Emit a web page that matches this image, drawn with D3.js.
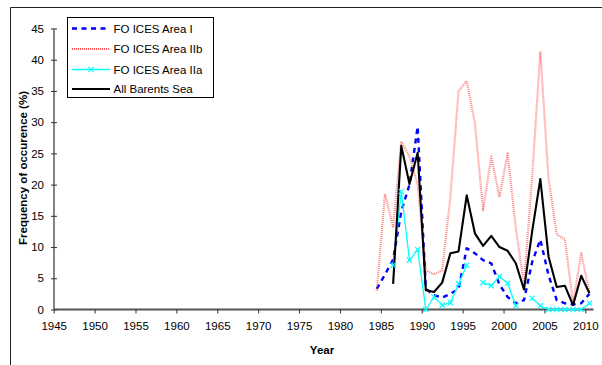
<!DOCTYPE html>
<html>
<head>
<meta charset="utf-8">
<script src="https://cdn.jsdelivr.net/npm/d3@7"></script>
<style>
  html, body { margin: 0; padding: 0; background: #fff; }
  svg { display: block; }
  text { font-family: "Liberation Sans", Arial, sans-serif; fill: #000; }
</style>
</head>
<body>
<svg id="chart" width="602" height="365"></svg>
<script>
// Survey years
const years = [1984, 1985, 1986, 1987, 1988, 1989, 1990, 1991, 1992, 1993,
               1994, 1995, 1996, 1997, 1998, 1999, 2000, 2001, 2002, 2003,
               2004, 2005, 2006, 2007, 2008, 2009, 2010];

// Frequency of occurrence (%) per area; null = no survey that year
const areaI = [3.3, 5.6, 8.0, 15.7, 20.0, 29.3, 3.3, 2.3, 1.9, 2.5,
               3.3, 9.8, 9.0, 7.9, 7.4, 4.0, 2.0, 1.0, 1.5, 7.6,
               11.2, 5.5, 1.5, 1.0, 0.8, 1.0, 2.5];
const areaIIb = [3.0, 18.5, 13.3, 26.9, 24.5, 20.0, 6.3, 5.6, 6.3, 18.0,
                 35.0, 36.6, 29.8, 15.9, 24.5, 18.0, 25.0, 13.0, 4.0, 21.3,
                 41.3, 21.0, 12.0, 11.3, 1.0, 9.0, 2.7];
const areaIIa = [null, null, 7.1, 18.9, 7.9, 9.6, 0.0, 2.0, 0.7, 1.1,
                 4.1, 7.1, null, 4.3, 3.8, 5.3, 4.2, 0.6, null, 1.8,
                 0.6, 0.0, 0.0, 0.0, 0.0, 0.0, 1.0];
const allBarents = [null, null, 4.1, 26.2, 20.1, 25.1, 3.1, 2.8, 4.3, 9.0,
                    9.3, 18.3, 12.2, 10.2, 11.8, 10.0, 9.4, 7.4, 3.2, 12.5,
                    20.9, 8.5, 3.6, 3.8, 0.7, 5.4, 2.6];

const seriesNames = ["FO ICES Area I", "FO ICES Area IIb", "FO ICES Area IIa", "All Barents Sea"];
const xTickYears = [1945, 1950, 1955, 1960, 1965, 1970, 1975, 1980, 1985, 1990, 1995, 2000, 2005, 2010];
const yTickValues = [0, 5, 10, 15, 20, 25, 30, 35, 40, 45];
const xTitle = "Year";
const yTitle = "Frequency of occurence (%)";

const svg = d3.select("#chart");

// Outer chart frame (left and top edges)
svg.append("path")
  .attr("d", "M10.5,365 V7.5 H602")
  .attr("fill", "none").attr("stroke", "#222").attr("stroke-width", 1);

const x = d3.scaleLinear().domain([1945, 2011]).range([53.7, 593.5]);
const y = d3.scaleLinear().domain([0, 45]).range([309.5, 28.5]);
// values sit in the middle of each year
const px = yr => x(yr + 0.5);

// Y axis
const yAxis = svg.append("g").attr("transform", "translate(54,0)")
  .call(d3.axisLeft(y).tickValues(yTickValues).tickSize(3).tickPadding(7).tickFormat(d3.format("d")));
yAxis.select(".domain").attr("d", `M0,${y(0)}V${y(45)}`).attr("stroke", "#333").attr("stroke-width", 1.2);
yAxis.selectAll(".tick line").attr("x1", -3).attr("x2", 3).attr("stroke", "#333");
yAxis.selectAll(".tick text").attr("font-size", 11.5).attr("font-family", "Liberation Sans, Arial, sans-serif").attr("fill", "#000");

// X axis
const xAxis = svg.append("g").attr("transform", `translate(0,${y(0)})`)
  .call(d3.axisBottom(x).tickValues(xTickYears).tickSize(4).tickPadding(8).tickFormat(d3.format("d")));
xAxis.select(".domain").attr("d", `M${x(1945)},0H${x(2011)}`).attr("stroke", "#555").attr("stroke-width", 1.8);
xAxis.selectAll(".tick line").attr("stroke", "#333");
xAxis.selectAll(".tick text").attr("font-size", 11.5).attr("font-family", "Liberation Sans, Arial, sans-serif").attr("fill", "#000");

// Axis titles
svg.append("text").attr("x", 322).attr("y", 353.5).attr("text-anchor", "middle")
  .attr("font-size", 11.5).attr("font-weight", "bold").text(xTitle);
svg.append("text").attr("transform", "translate(26.5,168) rotate(-90)").attr("text-anchor", "middle")
  .attr("font-size", 11.5).attr("font-weight", "bold").text(yTitle);

const lineGen = d3.line()
  .defined(d => d.v != null)
  .x(d => px(d.yr))
  .y(d => y(d.v));
const pts = arr => years.map((yr, i) => ({ yr, v: arr[i] }));

const styles = [
  { color: "#0000ff", width: 2.4, dash: "5,4.5", opacity: 1 },
  { color: "#ff2020", width: 2.2, dash: "1,1", opacity: 0.55 },
  { color: "#00ffff", width: 1.3, dash: null, opacity: 1 },
  { color: "#000000", width: 2.1, dash: null, opacity: 1 }
];
const seriesData = [areaI, areaIIb, areaIIa, allBarents];

const plot = svg.append("g");
seriesData.forEach((arr, i) => {
  const s = styles[i];
  plot.append("path")
    .attr("d", lineGen(pts(arr)))
    .attr("fill", "none")
    .attr("stroke", s.color)
    .attr("stroke-width", s.width)
    .attr("stroke-opacity", s.opacity)
    .attr("stroke-dasharray", s.dash)
    .attr("stroke-linejoin", "round");
});

// star-style markers on Area IIa
function starMarker(g, cx, cy, r, color) {
  g.append("path")
    .attr("d", `M${cx - r},${cy - r}L${cx + r},${cy + r}M${cx - r},${cy + r}L${cx + r},${cy - r}`)
    .attr("stroke", color).attr("stroke-width", 1.2).attr("fill", "none");
}
pts(areaIIa).filter(d => d.v != null).forEach(d => starMarker(plot, px(d.yr), y(d.v), 2.6, "#00ffff"));

// Legend
const legend = svg.append("g");
legend.append("rect").attr("x", 67.5).attr("y", 17.5).attr("width", 146).attr("height", 80)
  .attr("fill", "#fff").attr("stroke", "#000").attr("stroke-width", 1);
const rowY = [28.5, 49, 69.5, 89];
seriesNames.forEach((name, i) => {
  const s = styles[i];
  const ly = rowY[i];
  legend.append("line").attr("x1", 72).attr("x2", 110).attr("y1", ly).attr("y2", ly)
    .attr("stroke", s.color).attr("stroke-width", s.width)
    .attr("stroke-opacity", i === 1 ? 0.75 : 1)
    .attr("stroke-dasharray", s.dash);
  if (i === 2) starMarker(legend, 91, ly, 2.6, "#00ffff");
  legend.append("text").attr("x", 113.5).attr("y", ly + 4.2)
    .attr("font-size", 11.5).text(name);
});
</script>
</body>
</html>
